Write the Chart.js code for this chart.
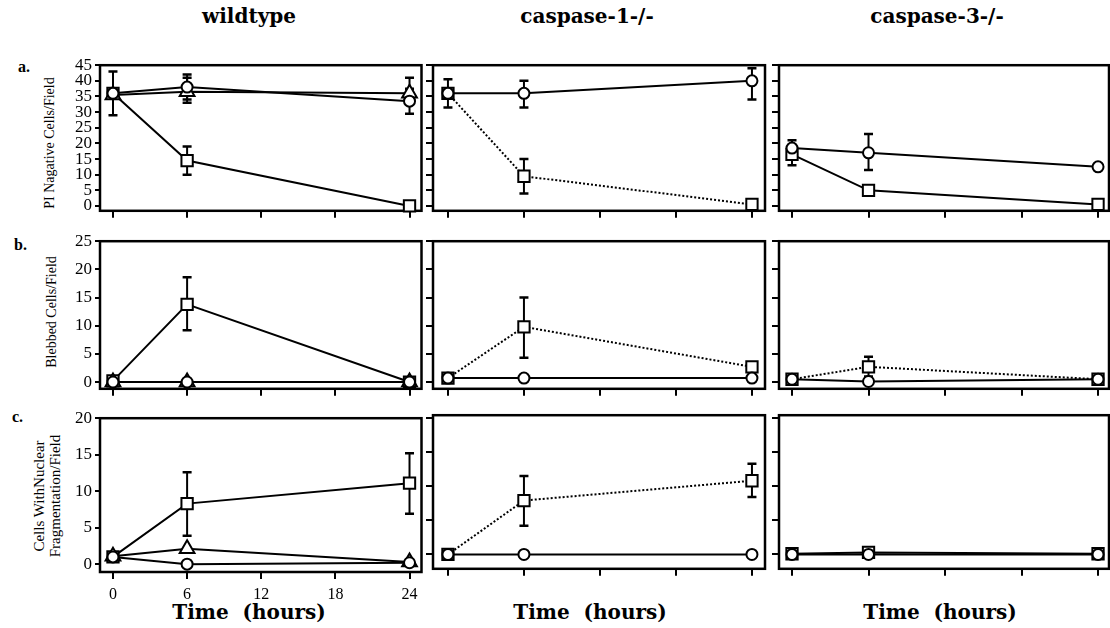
<!DOCTYPE html>
<html>
<head>
<meta charset="utf-8">
<script src="https://cdn.jsdelivr.net/npm/chart.js@4.4.0/dist/chart.umd.min.js"></script>
<style>
  body { margin: 0; background: #fff; width: 1110px; height: 628px; position: relative; overflow: hidden; font-family: "Liberation Serif", serif; color: #000; }
  canvas { position: absolute; }
  .t { position: absolute; white-space: pre; }
  .head { font-family: "DejaVu Serif", serif; font-weight: bold; font-size: 20px; transform: translateX(-50%); }
  .ylab { font-size: 14px; line-height: 16px; text-align: center; transform: translate(-50%, -50%) rotate(-90deg); }
  .row { font-size: 16px; font-weight: bold; }
</style>
</head>
<body>

<div class="t head" style="left:249px; top:4px;">wildtype</div>
<div class="t head" style="left:587px; top:4px;">caspase-1-/-</div>
<div class="t head" style="left:937px; top:4px;">caspase-3-/-</div>

<div class="t head" style="left:249px; top:600px;">Time  (hours)</div>
<div class="t head" style="left:590px; top:600px;">Time  (hours)</div>
<div class="t head" style="left:940px; top:600px;">Time  (hours)</div>

<div class="t row" style="left:18px; top:58px;">a.</div>
<div class="t row" style="left:14px; top:236px;">b.</div>
<div class="t row" style="left:12px; top:408px;">c.</div>

<div class="t ylab" style="left:50px; top:143px;">PI Nagative Cells/Field</div>
<div class="t ylab" style="left:52px; top:312px;">Blebbed Cells/Field</div>
<div class="t ylab" style="left:47px; top:496px; font-size:15px;">Cells WithNuclear
Fragmentation/Field</div>

<script>
// time points and ticks
const hours = [0, 6, 24];
const xTicks = [0, 6, 12, 18, 24];
const yTicksA = [0, 5, 10, 15, 20, 25, 30, 35, 40, 45];
const yTicksB = [0, 5, 10, 15, 20, 25];
const yTicksC = [0, 5, 10, 15, 20];

// a. PI negative cells / field
const wtPiCircle = [36, 38, 33.5];
const wtPiCircleLo = [29, 34, 29.5];
const wtPiCircleHi = [43, 42, 37.5];
const wtPiTriangle = [35.5, 36.5, 36];
const wtPiTriangleLo = [null, 33, 34.5];
const wtPiTriangleHi = [null, 41, 41];
const wtPiSquare = [36, 14.5, 0];
const wtPiSquareLo = [null, 10, null];
const wtPiSquareHi = [null, 19, null];

const c1PiCircle = [36, 36, 40];
const c1PiCircleLo = [31.5, 31.5, 34];
const c1PiCircleHi = [40.5, 40, 44];
const c1PiSquare = [36, 9.5, 0.5];
const c1PiSquareLo = [null, 4, null];
const c1PiSquareHi = [null, 15, null];

const c3PiCircle = [18.5, 17, 12.5];
const c3PiCircleLo = [13, 11.5, null];
const c3PiCircleHi = [21, 23, null];
const c3PiSquare = [16.5, 5, 0.5];

// b. blebbed cells / field
const wtBlebCircle = [0, 0, 0];
const wtBlebTriangle = [0, 0, 0];
const wtBlebSquare = [0.2, 13.8, 0];
const wtBlebSquareLo = [null, 9.2, null];
const wtBlebSquareHi = [null, 18.6, null];

const c1BlebCircle = [0.7, 0.7, 0.7];
const c1BlebSquare = [0.7, 9.8, 2.7];
const c1BlebSquareLo = [null, 4.3, null];
const c1BlebSquareHi = [null, 15, null];

const c3BlebCircle = [0.5, 0.1, 0.5];
const c3BlebSquare = [0.5, 2.7, 0.5];
const c3BlebSquareLo = [null, 1, null];
const c3BlebSquareHi = [null, 4.5, null];

// c. cells with nuclear fragmentation / field
const wtFragCircle = [1, 0, 0.2];
const wtFragTriangle = [1.1, 2.1, 0.3];
const wtFragSquare = [1, 8.3, 11.1];
const wtFragSquareLo = [null, 3.9, 6.9];
const wtFragSquareHi = [null, 12.6, 15.2];

const c1FragCircle = [0, 0, 0];
const c1FragSquare = [0, 7.9, 10.8];
const c1FragSquareLo = [null, 4.2, 8.4];
const c1FragSquareHi = [null, 11.5, 13.3];

const c3FragCircle = [0, 0, 0];
const c3FragSquare = [0.1, 0.3, 0.1];

// panel placement on the page
const cols = [
  { l: 100, r: 422, xMin: -1.05, xMax: 24.97 },
  { l: 433, r: 765, xMin: -1.18, xMax: 25.03 },
  { l: 779, r: 1109, xMin: -1.02, xMax: 24.86 }
];
const rowA = { t: 62, b: 212, min: -1.55, max: 45, ticks: yTicksA, font: 17 };
const rowB = { t: 238, b: 390, min: -1.2, max: 25, ticks: yTicksB, font: 17 };
const rowC = { t: 415, b: 572, min: -1.07, max: 20, ticks: yTicksC, font: 17 };
const rowC2 = { t: 412, b: 570, min: -2.1, max: 20.4, ticks: yTicksC, font: 17 };

const radius = { circle: 5.5, rect: 8, triangle: 8.5 };

const frame = {
  id: 'frame',
  beforeDatasetsDraw(chart) {
    const { ctx, chartArea: a } = chart;
    ctx.save();
    ctx.strokeStyle = '#000';
    ctx.lineWidth = 2.5;
    ctx.strokeRect(a.left, a.top, a.right - a.left, a.bottom - a.top);
    ctx.restore();
  }
};

// error bars with caps, drawn behind the markers
const errorBars = {
  id: 'errorBars',
  beforeDatasetsDraw(chart) {
    const { ctx, scales: { x, y } } = chart;
    ctx.save();
    ctx.strokeStyle = '#000';
    chart.data.datasets.forEach(ds => {
      if (!ds.lo) return;
      ds.data.forEach((pt, i) => {
        if (ds.lo[i] == null) return;
        const px = x.getPixelForValue(pt.x);
        const y1 = y.getPixelForValue(ds.lo[i]);
        const y2 = y.getPixelForValue(ds.hi[i]);
        ctx.lineWidth = 2;
        ctx.beginPath();
        ctx.moveTo(px, y1); ctx.lineTo(px, y2);
        ctx.stroke();
        ctx.lineWidth = 2.5;
        ctx.beginPath();
        ctx.moveTo(px - 4.5, y1); ctx.lineTo(px + 4.5, y1);
        ctx.moveTo(px - 4.5, y2); ctx.lineTo(px + 4.5, y2);
        ctx.stroke();
      });
    });
    ctx.restore();
  }
};

function makePanel(col, row, series, showY, showX) {
  const c = cols[col];
  const padL = col === 0 ? 100 : 14;
  const padT = 10, padR = 10;
  const padB = showX ? 34 : 12;
  const tickY = col === 0 ? 5 : 7;
  const w = c.r - c.l + padL + padR;
  const h = row.b - row.t + padT + padB;
  const cv = document.createElement('canvas');
  cv.width = w; cv.height = h;
  cv.style.width = w + 'px'; cv.style.height = h + 'px';
  cv.style.left = (c.l - padL) + 'px';
  cv.style.top = (row.t - padT) + 'px';
  document.body.appendChild(cv);

  new Chart(cv, {
    type: 'line',
    data: {
      datasets: series.map(s => ({
        data: hours.map((x, i) => ({ x: x, y: s.y[i] })),
        lo: s.lo, hi: s.hi,
        borderColor: '#000',
        borderWidth: 2,
        borderDash: s.dashed ? [2, 2] : [],
        pointStyle: s.shape,
        pointRadius: radius[s.shape],
        pointBorderWidth: 2,
        pointBackgroundColor: '#fff',
        pointBorderColor: '#000',
        tension: 0,
        fill: false,
        clip: false
      }))
    },
    options: {
      responsive: false,
      animation: false,
      devicePixelRatio: 1,
      layout: { padding: { top: padT, right: padR, left: 0, bottom: 0 } },
      plugins: { legend: { display: false }, tooltip: { enabled: false } },
      scales: {
        x: {
          type: 'linear',
          min: c.xMin, max: c.xMax,
          afterBuildTicks: s => { s.ticks = xTicks.map(v => ({ value: v })); },
          afterFit: s => { s.height = padB; },
          border: { display: false },
          grid: { drawOnChartArea: false, drawTicks: true, tickLength: 7, color: '#000', lineWidth: 2 },
          ticks: {
            autoSkip: false, maxRotation: 0, padding: 6, color: '#000',
            font: { family: 'Liberation Serif', size: 16 },
            callback: v => showX ? String(v) : ''
          }
        },
        y: {
          min: row.min, max: row.max,
          afterBuildTicks: s => { s.ticks = row.ticks.map(v => ({ value: v })); },
          afterFit: s => { s.width = padL; },
          border: { display: false },
          grid: { drawOnChartArea: false, drawTicks: true, tickLength: tickY, color: '#000', lineWidth: 2 },
          ticks: {
            autoSkip: false, padding: 3, color: '#000',
            font: { family: 'Liberation Serif', size: row.font },
            callback: v => showY ? String(v) : ''
          }
        }
      }
    },
    plugins: [frame, errorBars]
  });
}

// row a
makePanel(0, rowA, [
  { y: wtPiCircle, lo: wtPiCircleLo, hi: wtPiCircleHi, shape: 'circle' },
  { y: wtPiTriangle, lo: wtPiTriangleLo, hi: wtPiTriangleHi, shape: 'triangle' },
  { y: wtPiSquare, lo: wtPiSquareLo, hi: wtPiSquareHi, shape: 'rect' }
], true, false);
makePanel(1, rowA, [
  { y: c1PiCircle, lo: c1PiCircleLo, hi: c1PiCircleHi, shape: 'circle' },
  { y: c1PiSquare, lo: c1PiSquareLo, hi: c1PiSquareHi, shape: 'rect', dashed: true }
], false, false);
makePanel(2, rowA, [
  { y: c3PiCircle, lo: c3PiCircleLo, hi: c3PiCircleHi, shape: 'circle' },
  { y: c3PiSquare, shape: 'rect' }
], false, false);

// row b
makePanel(0, rowB, [
  { y: wtBlebCircle, shape: 'circle' },
  { y: wtBlebTriangle, shape: 'triangle' },
  { y: wtBlebSquare, lo: wtBlebSquareLo, hi: wtBlebSquareHi, shape: 'rect' }
], true, false);
makePanel(1, rowB, [
  { y: c1BlebCircle, shape: 'circle' },
  { y: c1BlebSquare, lo: c1BlebSquareLo, hi: c1BlebSquareHi, shape: 'rect', dashed: true }
], false, false);
makePanel(2, rowB, [
  { y: c3BlebCircle, shape: 'circle' },
  { y: c3BlebSquare, lo: c3BlebSquareLo, hi: c3BlebSquareHi, shape: 'rect', dashed: true }
], false, false);

// row c
makePanel(0, rowC, [
  { y: wtFragCircle, shape: 'circle' },
  { y: wtFragTriangle, shape: 'triangle' },
  { y: wtFragSquare, lo: wtFragSquareLo, hi: wtFragSquareHi, shape: 'rect' }
], true, true);
makePanel(1, rowC2, [
  { y: c1FragCircle, shape: 'circle' },
  { y: c1FragSquare, lo: c1FragSquareLo, hi: c1FragSquareHi, shape: 'rect', dashed: true }
], false, false);
makePanel(2, rowC2, [
  { y: c3FragCircle, shape: 'circle' },
  { y: c3FragSquare, shape: 'rect' }
], false, false);
</script>
</body>
</html>
